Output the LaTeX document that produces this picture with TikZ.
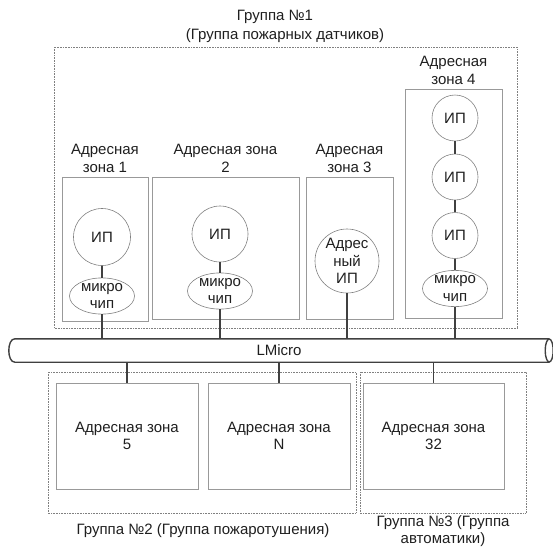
\documentclass[tikz,border=0pt]{standalone}
\usepackage{fontspec}
\setmainfont{Liberation Sans}
\usetikzlibrary{shapes.geometric,positioning}

\begin{document}
\begin{tikzpicture}[x=1pt,y=-1pt,
    every node/.style={font=\fontsize{15}{17.5}\selectfont,text=black!88,align=center,inner sep=0pt},
    zonebox/.style={draw=black!40,line width=0.9pt},
    ipnode/.style={circle,draw=black!50,line width=0.6pt},
    chipnode/.style={ellipse,draw=black!50,line width=0.6pt,minimum width=65pt,minimum height=34pt},
    link/.style={draw=black!75,line width=1.2pt},
    busline/.style={draw=black!75,line width=1.4pt},
    grp/.style={densely dotted,draw=black!50,line width=0.6pt}]
    \useasboundingbox (0,0) rectangle (553,549);

    \draw[grp] (54,47) rectangle (517,328);
    \draw[grp] (48,372) rectangle (356,513);
    \draw[grp] (360,372) rectangle (526,513);

    \node (G1a) at (275,17) {Группа №1};
    \node (G1b) at (285,36) {(Группа пожарных датчиков)};
    \node (G2) at (203,531) {Группа №2 (Группа пожаротушения)};
    \node (G3) at (443,531) {Группа №3 (Группа\\автоматики)};

    \node (Z1) [zonebox,minimum width=86pt,minimum height=144pt] at (105,249) {};
    \node (Z2) [zonebox,minimum width=147pt,minimum height=142pt] at (225.5,248) {};
    \node (Z3) [zonebox,minimum width=87pt,minimum height=142pt] at (349.5,248) {};
    \node (Z4) [zonebox,minimum width=97pt,minimum height=229pt] at (453.5,203.5) {};
    \node (Z5) [zonebox,minimum width=142pt,minimum height=106pt] at (127,436) {Адресная зона\\5};
    \node (ZN) [zonebox,minimum width=142pt,minimum height=106pt] at (279,436) {Адресная зона\\N};
    \node (Z32) [zonebox,minimum width=141pt,minimum height=106pt] at (433.5,436) {Адресная зона\\32};

    \node (L1) [above=4pt of Z1] {Адресная\\зона 1};
    \node (L2) [above=4pt of Z2] {Адресная зона\\2};
    \node (L3) [above=4pt of Z3] {Адресная\\зона 3};
    \node (L4) [above=4pt of Z4] {Адресная\\зона 4};

    \node (I1) [ipnode,minimum size=57pt] at (102,237) {ИП};
    \node (I2) [ipnode,minimum size=56pt] at (220,234) {ИП};
    \node (I3) [ipnode,minimum size=64pt] at (347,261) {Адрес\\ный\\ИП};
    \node (I41) [ipnode,minimum size=46pt] at (455,118) {ИП};
    \node (I42) [ipnode,minimum size=46pt] at (455,177) {ИП};
    \node (I43) [ipnode,minimum size=46pt] at (455,235.5) {ИП};

    \node (C1) [chipnode] at (102,296) {микро\\чип};
    \node (C2) [chipnode,minimum height=32pt] at (220,291) {микро\\чип};
    \node (C4) [chipnode] at (455,288.5) {микро\\чип};

    \node (bus) [minimum width=540pt,minimum height=23pt] at (279,350.5) {LMicro};
    \draw[busline] (bus.north east) -- ([xshift=6pt]bus.north west)
      .. controls ([xshift=-2pt]bus.north west) and ([xshift=-2pt]bus.south west) .. ([xshift=6pt]bus.south west)
      -- (bus.south east);
    \draw[busline] (bus.east) ellipse [x radius=4pt,y radius=11.5pt];

    \draw[link] (I1) -- (C1);
    \draw[link] (C1) -- (C1 |- bus.north);
    \draw[link] (I2) -- (C2);
    \draw[link] (C2) -- (C2 |- bus.north);
    \draw[link] (I3) -- (I3 |- bus.north);
    \draw[link] (I41) -- (I42);
    \draw[link] (I42) -- (I43);
    \draw[link] (I43) -- (C4);
    \draw[link] (C4) -- (C4 |- bus.north);

    \draw[link] (bus.south -| Z5.north) -- (Z5);
    \draw[link] (bus.south -| ZN.north) -- (ZN);
    \draw[link] (bus.south -| Z32.north) -- (Z32);
\end{tikzpicture}
\end{document}
